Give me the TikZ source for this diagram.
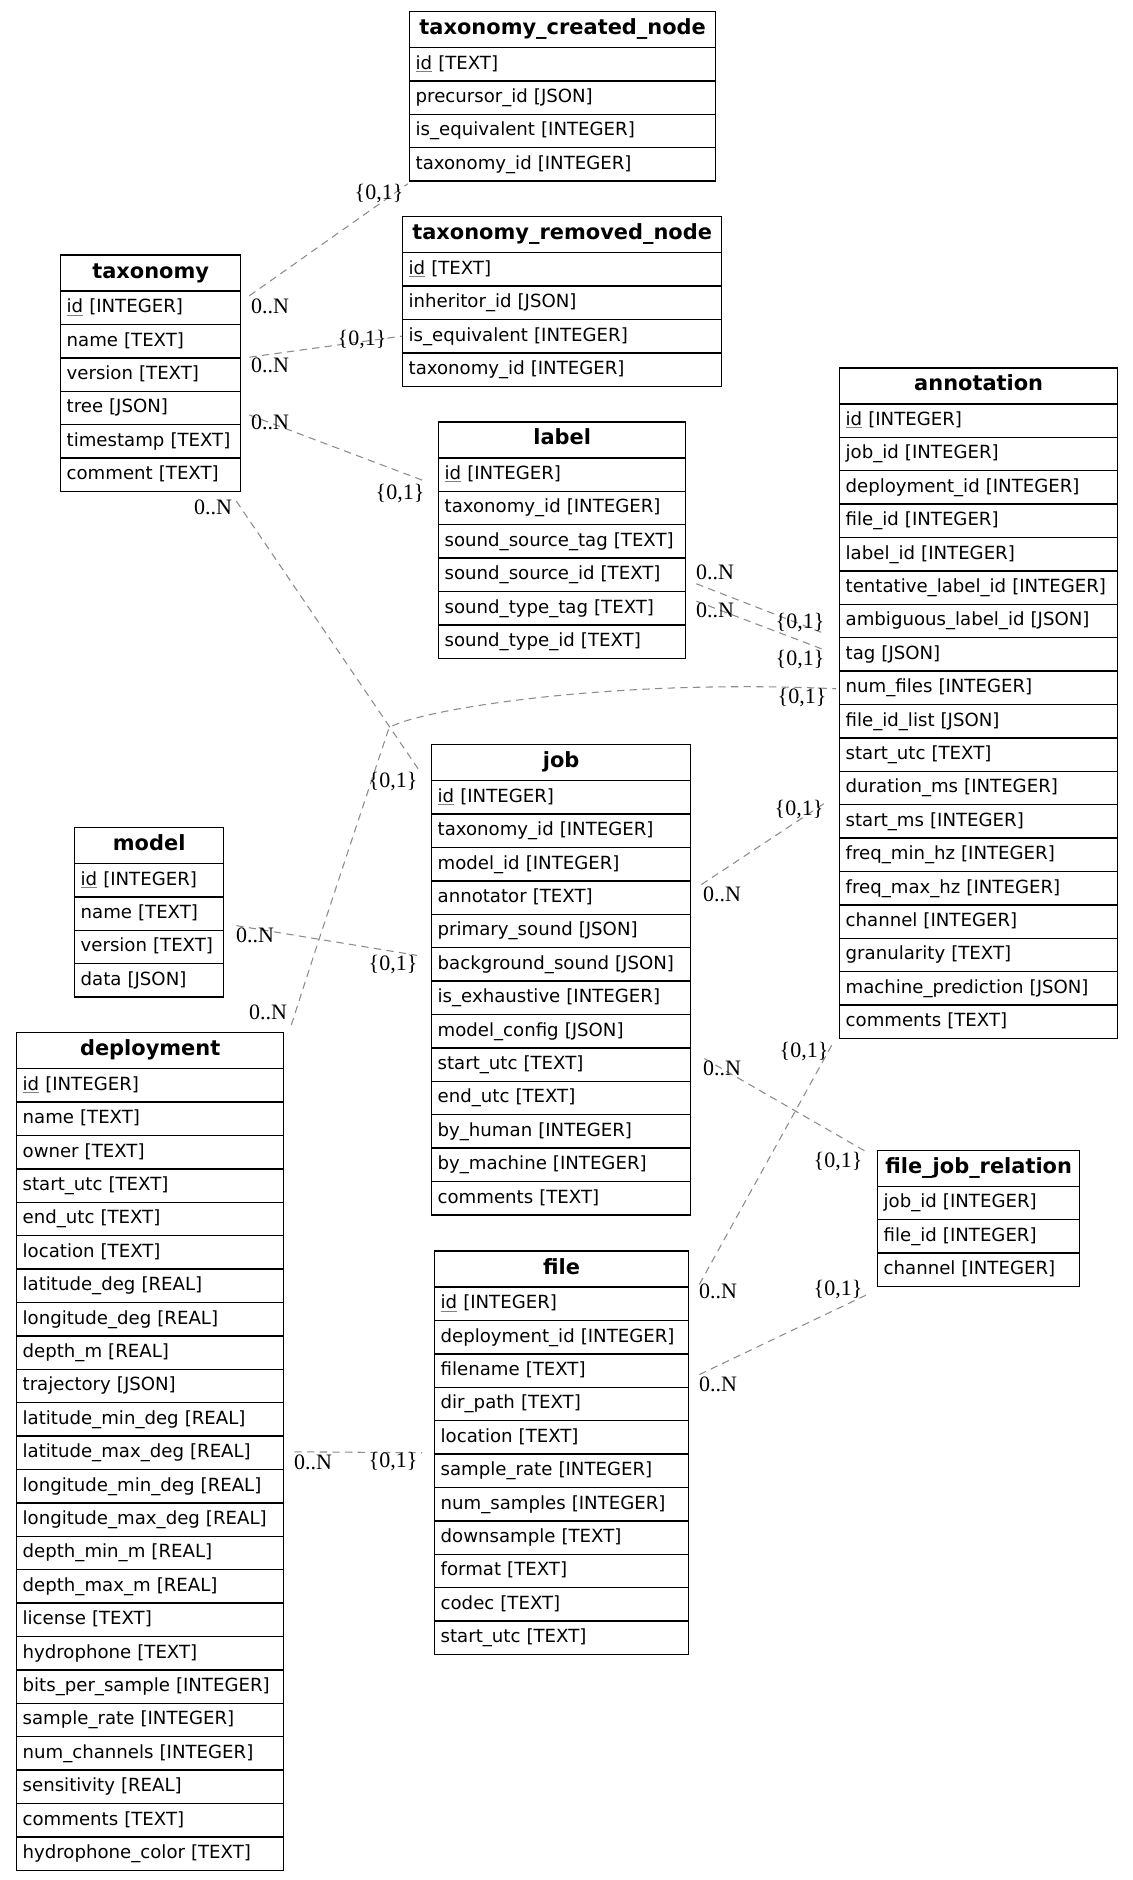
\documentclass[tikz,border=0pt]{standalone}
\usepackage{fontspec}
\setmainfont{DejaVu Sans}
\newfontfamily\lblfont{Liberation Serif}
\usetikzlibrary{positioning}

\definecolor{linkgray}{HTML}{8C8C8C}
\newcommand\erpad{4.5}
% primary key: underlined in gray
\newcommand\pkey[1]{{\color{gray}\underline{\color{black}#1}}}

\tikzset{
  erhead/.style={draw=black, line width=1pt, fill=white, inner xsep=\erpad pt, inner ysep=0pt,
    minimum height=27pt, align=center, text height=11pt, text depth=3.5pt,
    font=\fontsize{15.7}{18}\selectfont\bfseries},
  errow/.style={draw=black, line width=1pt, fill=white, inner xsep=\erpad pt, inner ysep=0pt,
    minimum height=25.05pt, align=left, text height=10.5pt, text depth=3pt,
    font=\fontsize{13.6}{16}\selectfont},
  erlink/.style={draw=linkgray, line width=0.8pt, dash pattern=on 5.5pt off 4pt},
  card/.style={inner sep=0pt, font=\lblfont\fontsize{16.5}{18}\selectfont}
}

% entity table: name, left, top, right, title, list of columns
\newcommand\erbox[6]{%
  \pgfmathsetmacro\erw{(#4-#2)*0.75}%
  \pgfmathsetmacro\ertw{(#4-#2)*0.75-2*\erpad}%
  \node[erhead, minimum width=\erw pt, anchor=north west] (#1) at (#2,#3) {#5};
  \foreach \r [count=\i] in {#6} {
    \node[errow, minimum width=\erw pt, text width=\ertw pt, anchor=north west]
      (#1-\i) at (#2,{#3+36+(\i-1)*33.4}) {\mbox{\r}};
  }
}

\begin{document}
\begin{tikzpicture}[x=0.75pt, y=-0.75pt]
\fill[white] (0,0) rectangle (1132,1880);
\useasboundingbox (0,0) rectangle (1132,1880);

\erbox{tcn}{409}{10.8}{715}{taxonomy\_created\_node}{\pkey{id} [TEXT], precursor\_id [JSON], is\_equivalent [INTEGER], taxonomy\_id [INTEGER]}
\erbox{trn}{402}{216}{721}{taxonomy\_removed\_node}{\pkey{id} [TEXT], inheritor\_id [JSON], is\_equivalent [INTEGER], taxonomy\_id [INTEGER]}
\erbox{tax}{60}{254.4}{240}{taxonomy}{\pkey{id} [INTEGER], name [TEXT], version [TEXT], tree [JSON], timestamp [TEXT], comment [TEXT]}
\erbox{lab}{438}{421.2}{685}{label}{\pkey{id} [INTEGER], taxonomy\_id [INTEGER], sound\_source\_tag [TEXT], sound\_source\_id [TEXT], sound\_type\_tag [TEXT], sound\_type\_id [TEXT]}
\erbox{ann}{839}{367.2}{1117}{annotation}{\pkey{id} [INTEGER], job\_id [INTEGER], deployment\_id [INTEGER], file\_id [INTEGER], label\_id [INTEGER], tentative\_label\_id [INTEGER], ambiguous\_label\_id [JSON], tag [JSON], num\_files [INTEGER], file\_id\_list [JSON], start\_utc [TEXT], duration\_ms [INTEGER], start\_ms [INTEGER], freq\_min\_hz [INTEGER], freq\_max\_hz [INTEGER], channel [INTEGER], granularity [TEXT], machine\_prediction [JSON], comments [TEXT]}
\erbox{job}{431}{744}{690}{job}{\pkey{id} [INTEGER], taxonomy\_id [INTEGER], model\_id [INTEGER], annotator [TEXT], primary\_sound [JSON], background\_sound [JSON], is\_exhaustive [INTEGER], model\_config [JSON], start\_utc [TEXT], end\_utc [TEXT], by\_human [INTEGER], by\_machine [INTEGER], comments [TEXT]}
\erbox{mod}{74}{826.8}{223}{model}{\pkey{id} [INTEGER], name [TEXT], version [TEXT], data [JSON]}
\erbox{dep}{16}{1032}{283}{deployment}{\pkey{id} [INTEGER], name [TEXT], owner [TEXT], start\_utc [TEXT], end\_utc [TEXT], location [TEXT], latitude\_deg [REAL], longitude\_deg [REAL], depth\_m [REAL], trajectory [JSON], latitude\_min\_deg [REAL], latitude\_max\_deg [REAL], longitude\_min\_deg [REAL], longitude\_max\_deg [REAL], depth\_min\_m [REAL], depth\_max\_m [REAL], license [TEXT], hydrophone [TEXT], bits\_per\_sample [INTEGER], sample\_rate [INTEGER], num\_channels [INTEGER], sensitivity [REAL], comments [TEXT], hydrophone\_color [TEXT]}
\erbox{fjr}{877}{1149.6}{1079}{file\_job\_relation}{job\_id [INTEGER], file\_id [INTEGER], channel [INTEGER]}
\erbox{fil}{434}{1250.4}{688}{file}{\pkey{id} [INTEGER], deployment\_id [INTEGER], filename [TEXT], dir\_path [TEXT], location [TEXT], sample\_rate [INTEGER], num\_samples [INTEGER], downsample [TEXT], format [TEXT], codec [TEXT], start\_utc [TEXT]}

% relations
\draw[erlink] ([shift={(8,-12)}]tax-1.east) -- ([shift={(-1,2)}]tcn-4.south west);
\draw[erlink] ([shift={(8,16)}]tax-2.east) -- ([shift={(0,0)}]trn-3.west);
\draw[erlink] ([shift={(8,7)}]tax-4.east) -- ([shift={(-12,7)}]lab-1.west);
\draw[erlink] ([shift={(-5,9)}]tax-6.south east) -- ([shift={(-13,6)}]job.west);
\draw[erlink] ([shift={(7,-7)}]dep.north east) .. controls (320,935) and (375,770) .. (389,728)
  .. controls (410,712) and (600,678) .. ([shift={(-3,1)}]ann-9.west);
\draw[erlink] ([shift={(10,9)}]lab-4.east) -- ([shift={(-16,12)}]ann-7.west);
\draw[erlink] ([shift={(10,-7)}]lab-5.east) -- ([shift={(-16,-5)}]ann-8.west);
\draw[erlink] ([shift={(10,-13)}]job-4.east) -- ([shift={(-11,13)}]ann-12.west);
\draw[erlink] ([shift={(12,-4)}]mod-3.north east) -- ([shift={(-14,-9)}]job-6.west);
\draw[erlink] ([shift={(13,-6)}]job-9.east) -- ([shift={(-11,2)}]fjr.north west);
\draw[erlink] ([shift={(10,-2)}]fil-1.north east) -- ([shift={(-5,2)}]ann-19.south west);
\draw[erlink] ([shift={(10,4)}]fil-3.east) -- ([shift={(-11,8)}]fjr-3.south west);
\draw[erlink] ([shift={(10,-1)}]dep-12.east) -- ([shift={(-12,-2)}]fil-5.south west);

% cardinalities
\node[card] (c1a) at (270,306) {0..N};
\node[card] (c1b) at (379,194) {\{0,1\}};
\node[card] (c2a) at (270,365) {0..N};
\node[card] (c2b) at (362,340) {\{0,1\}};
\node[card] (c3a) at (270,422) {0..N};
\node[card] (c3b) at (400,494) {\{0,1\}};
\node[card] (c4a) at (213,507) {0..N};
\node[card] (c4b) at (393,782) {\{0,1\}};
\node[card] (c5a) at (268,1012) {0..N};
\node[card] (c5b) at (802,698) {\{0,1\}};
\node[card] (c6a) at (715,572) {0..N};
\node[card] (c6b) at (800,623) {\{0,1\}};
\node[card] (c7a) at (715,610) {0..N};
\node[card] (c7b) at (800,660) {\{0,1\}};
\node[card] (c8a) at (722,894) {0..N};
\node[card] (c8b) at (799,810) {\{0,1\}};
\node[card] (c9a) at (255,935) {0..N};
\node[card] (c9b) at (393,965) {\{0,1\}};
\node[card] (c10a) at (722,1068) {0..N};
\node[card] (c10b) at (838,1162) {\{0,1\}};
\node[card] (c11a) at (718,1291) {0..N};
\node[card] (c11b) at (804,1052) {\{0,1\}};
\node[card] (c12a) at (718,1384) {0..N};
\node[card] (c12b) at (838,1290) {\{0,1\}};
\node[card] (c13a) at (313,1462) {0..N};
\node[card] (c13b) at (393,1462) {\{0,1\}};
\end{tikzpicture}
\end{document}
